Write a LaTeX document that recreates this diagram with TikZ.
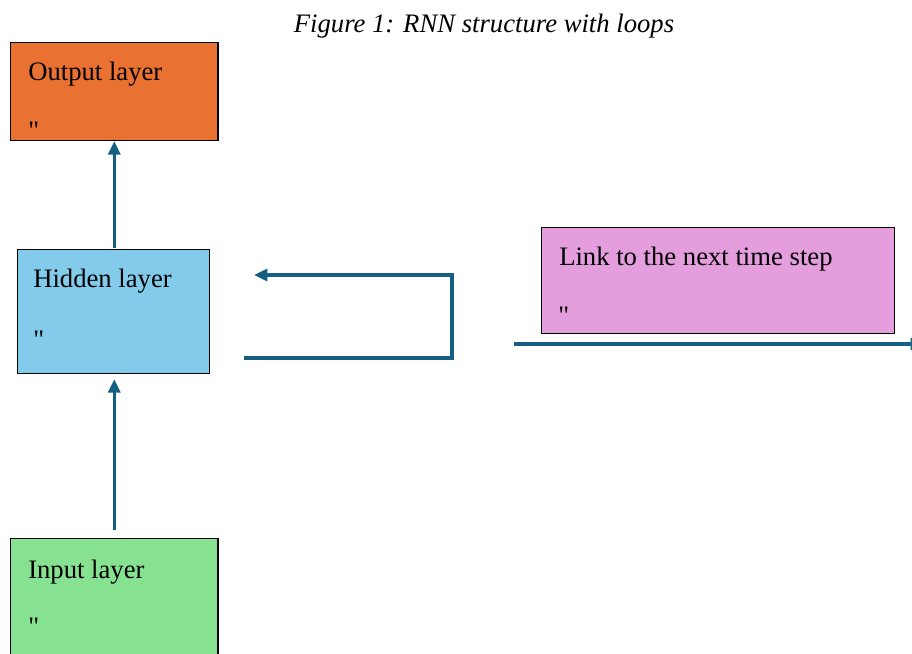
\documentclass[tikz,border=0pt]{standalone}
\usepackage{fontspec}
\setmainfont{Liberation Serif}
\newfontfamily\qfont{Liberation Serif}
\usetikzlibrary{arrows.meta}
\definecolor{cOut}{HTML}{E97132}
\definecolor{cHid}{HTML}{83CBEB}
\definecolor{cIn}{HTML}{86E291}
\definecolor{cLink}{HTML}{E59EDD}
\definecolor{cArr}{HTML}{156082}
\tikzset{
  layerbox/.style={draw=black, line width=0.9pt, anchor=north west, inner sep=0pt, rectangle},
  lbl/.style={anchor=base west, inner sep=0pt, font=\fontsize{20}{24}\selectfont},
  qmark/.style={anchor=north west, inner sep=0pt, font=\qfont\fontsize{20}{24}\selectfont},
  conn/.style={draw=cArr, line width=2.3pt, -{Triangle[length=10pt,width=9pt]}}
}
\begin{document}
\begin{tikzpicture}[x=0.75pt,y=-0.75pt]
\useasboundingbox (0,0) rectangle (912,653);
\fill[white] (0,0) rectangle (912,653);
% title
\node[anchor=base, inner sep=0pt, font=\fontsize{20}{24}\selectfont\itshape] (title) at (484,32) {Figure 1: RNN structure with loops};
% boxes
\node[layerbox, fill=cOut, minimum width=155.5pt, minimum height=73.5pt] (output) at (10,42) {};
\node[layerbox, fill=cHid, minimum width=144pt, minimum height=93pt] (hidden) at (17,249) {};
\node[layerbox, fill=cIn, minimum width=155.5pt, minimum height=100pt] (input) at (10,538) {};
\node[layerbox, fill=cLink, minimum width=264.75pt, minimum height=79.5pt] (link) at (541,227) {};
% labels
\node[lbl] (tout) at (28,80) {Output layer};
\node[qmark] (qout) at (28,122) {"};
\node[lbl] (thid) at (33,287) {Hidden layer};
\node[qmark] (qhid) at (33,331) {"};
\node[lbl] (tin) at (28,578) {Input layer};
\node[qmark] (qin) at (28,618) {"};
\node[lbl] (tlink) at (559,265) {Link to the next time step};
\node[qmark] (qlink) at (558,307) {"};
% connectors
\draw[conn, shorten <=0.75pt] (hidden.north -| output.south) -- (output.south);
\draw[conn, shorten <=6pt, shorten >=3.75pt] (input.north -| output.south) -- (hidden.south -| output.south);
\coordinate (la) at (244,358);
\coordinate (lb) at (452,358);
\coordinate (lc) at (452,275);
\coordinate (ld) at (254,275);
\draw[conn] (la) -- (lb) -- (lc) -- (ld);
\coordinate (ra) at (514,344);
\coordinate (rb) at (924,344);
\draw[conn] (ra) -- (rb);
\end{tikzpicture}
\end{document}
